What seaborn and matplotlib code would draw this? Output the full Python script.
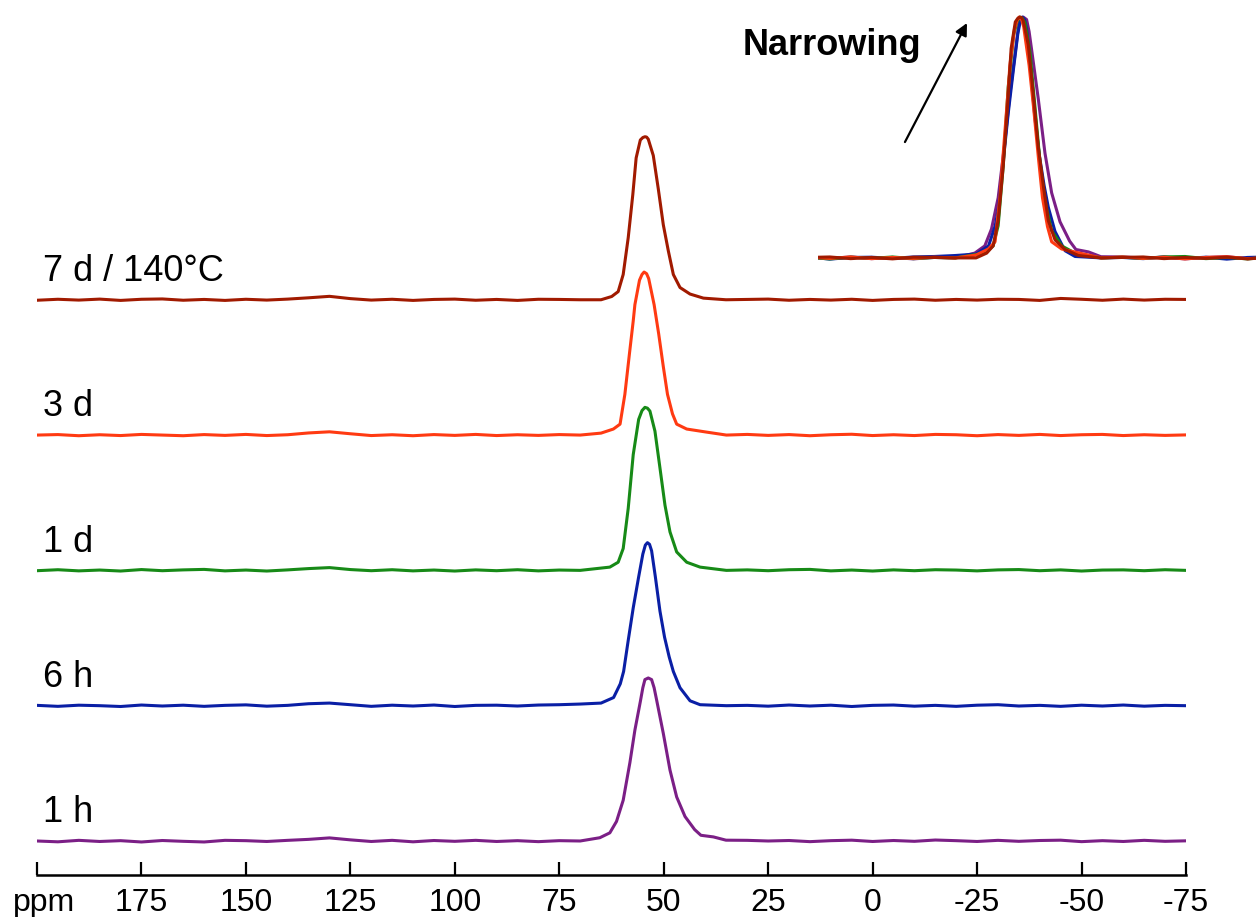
import matplotlib
matplotlib.use("Agg")
import matplotlib.pyplot as plt
import numpy as np
import pandas as pd
import seaborn as sns

# ---------------- data ----------------
labels = ["1 h", "6 h", "1 d", "3 d", "7 d / 140°C"]
colors = ["#7b1f86", "#0a1fa5", "#178a17", "#ff3a12", "#a11a00"]

tick_values = [200, 175, 150, 125, 100, 75, 50, 25, 0, -25, -50, -75]
tick_labels = ["", "175", "150", "125", "100", "75", "50", "25", "0", "-25", "-50", "-75"]
axis_unit = "ppm"

# baseline sampling grid (ppm) on both sides of the resonance
base_left_ppm = [200, 195, 190, 185, 180, 175, 170, 165, 160, 155, 150, 145, 140,
                 135, 130, 125, 120, 115, 110, 105, 100, 95, 90, 85, 80, 75]
base_right_ppm = [30, 25, 20, 15, 10, 5, 0, -5, -10, -15, -20, -25, -30, -35,
                  -40, -45, -50, -55, -60, -65, -70, -75]

# baseline readings (fraction of peak height)
base_left_1h = [0.0, -0.005, 0.004, -0.003, 0.002, -0.006, 0.003, -0.002, -0.006, 0.004,
                0.002, -0.003, 0.004, 0.010, 0.019, 0.007, -0.003, 0.004, -0.005, 0.003,
                -0.002, 0.004, -0.003, 0.002, -0.004, 0.002]
base_right_1h = [0.004, 0.0, 0.003, -0.004, 0.002, 0.005, -0.003, 0.003, -0.002, 0.006,
                 0.002, -0.003, 0.004, -0.002, 0.003, 0.005, -0.004, 0.002, -0.003, 0.004,
                 -0.002, 0.001]
base_left_6h = [0.002, -0.004, 0.003, 0.0, -0.005, 0.004, -0.002, 0.003, -0.004, 0.002,
                0.005, -0.003, 0.002, 0.012, 0.016, 0.006, -0.004, 0.003, -0.002, 0.004,
                -0.005, 0.002, 0.003, -0.002, 0.004, 0.006]
base_right_6h = [0.002, -0.003, 0.004, -0.002, 0.003, -0.005, 0.002, 0.004, -0.003, 0.002,
                 -0.004, 0.003, 0.006, -0.002, 0.002, -0.004, 0.003, -0.002, 0.004, -0.003,
                 0.002, 0.0]
base_left_1d = [-0.002, 0.004, -0.003, 0.002, -0.004, 0.005, -0.002, 0.003, 0.006, -0.003,
                0.002, -0.004, 0.003, 0.011, 0.017, 0.005, -0.002, 0.004, -0.003, 0.002,
                -0.004, 0.003, -0.002, 0.004, -0.003, 0.002]
base_right_1d = [0.003, -0.002, 0.004, 0.006, -0.003, 0.002, -0.004, 0.003, -0.002, 0.004,
                 0.002, -0.003, 0.003, 0.005, -0.002, 0.003, -0.004, 0.002, 0.003, -0.002,
                 0.004, 0.0]
base_left_3d = [0.0, 0.003, -0.004, 0.002, -0.003, 0.004, 0.0, -0.004, 0.003, -0.002,
                0.004, -0.003, 0.002, 0.013, 0.020, 0.008, -0.003, 0.002, -0.004, 0.003,
                -0.002, 0.004, -0.003, 0.002, -0.002, 0.003]
base_right_3d = [0.004, -0.002, 0.003, -0.004, 0.002, 0.005, -0.003, 0.002, -0.003, 0.004,
                 0.002, -0.004, 0.003, -0.002, 0.004, -0.003, 0.002, 0.004, -0.003, 0.002,
                 -0.002, 0.001]
base_left_7d = [-0.003, 0.003, -0.002, 0.004, -0.004, 0.003, 0.005, -0.003, 0.002, -0.004,
                0.003, -0.002, 0.004, 0.012, 0.021, 0.007, -0.002, 0.003, -0.004, 0.002,
                0.004, -0.003, 0.002, -0.004, 0.003, 0.002]
base_right_7d = [0.002, 0.004, -0.003, 0.002, -0.002, 0.003, -0.004, 0.002, 0.004, -0.003,
                 0.002, -0.002, 0.003, 0.002, -0.004, 0.008, 0.003, -0.003, 0.004, -0.002,
                 0.003, 0.002]

# resonance readings (ppm, fraction of peak height)
peak_ppm_1h = [70.0, 65.3, 62.9, 61.3, 59.7, 58.1, 56.9, 55.6, 55.0, 54.5, 53.7, 52.9,
               52.3, 51.7, 50.1, 48.5, 46.9, 44.9, 42.6, 41.1, 38.1, 35.1]
peak_int_1h = [0.0, 0.02, 0.05, 0.12, 0.25, 0.48, 0.68, 0.855, 0.94, 0.99, 1.0, 0.99,
               0.94, 0.865, 0.66, 0.435, 0.27, 0.15, 0.07, 0.035, 0.025, 0.005]
peak_ppm_6h = [70.0, 65.0, 62.0, 60.4, 59.6, 58.5, 57.3, 56.0, 55.0, 54.4, 53.9, 53.4,
               52.9, 52.0, 50.9, 49.8, 48.7, 47.7, 46.1, 43.7, 41.3, 35.0]
peak_int_6h = [0.01, 0.016, 0.05, 0.134, 0.21, 0.40, 0.60, 0.79, 0.93, 0.985, 1.0, 0.99,
               0.95, 0.79, 0.58, 0.42, 0.30, 0.21, 0.11, 0.03, 0.006, 0.0]
peak_ppm_1d = [70.0, 62.9, 60.9, 59.7, 58.5, 57.3, 56.0, 55.2, 54.5, 53.9, 53.3, 52.1,
               50.9, 49.7, 48.5, 46.9, 44.5, 41.3, 35.0]
peak_int_1d = [0.0, 0.02, 0.05, 0.134, 0.38, 0.71, 0.926, 0.98, 1.0, 0.995, 0.977, 0.854,
               0.628, 0.40, 0.236, 0.113, 0.05, 0.02, 0.0]
peak_ppm_3d = [70.0, 65.0, 62.05, 60.45, 59.3, 58.2, 57.3, 56.9, 55.8, 55.2, 54.7, 54.1,
               53.6, 52.3, 51.2, 50.1, 49.1, 47.9, 46.9, 44.5, 39.7, 35.0]
peak_int_3d = [0.0, 0.012, 0.037, 0.067, 0.25, 0.50, 0.70, 0.80, 0.95, 0.985, 1.0, 0.99,
               0.96, 0.80, 0.62, 0.42, 0.25, 0.13, 0.067, 0.037, 0.018, 0.0]
peak_ppm_7d = [70.0, 65.0, 62.45, 60.9, 59.7, 58.5, 57.4, 56.6, 55.6, 55.0, 54.5, 54.1,
               53.7, 52.5, 51.3, 50.1, 48.9, 47.7, 46.1, 43.7, 40.5, 35.1]
peak_int_7d = [0.0, 0.0, 0.02, 0.05, 0.155, 0.38, 0.645, 0.87, 0.98, 0.995, 1.0, 0.998,
               0.985, 0.885, 0.68, 0.46, 0.30, 0.155, 0.075, 0.035, 0.01, 0.0]

series_parts = [
    (base_left_1h, peak_ppm_1h, peak_int_1h, base_right_1h),
    (base_left_6h, peak_ppm_6h, peak_int_6h, base_right_6h),
    (base_left_1d, peak_ppm_1d, peak_int_1d, base_right_1d),
    (base_left_3d, peak_ppm_3d, peak_int_3d, base_right_3d),
    (base_left_7d, peak_ppm_7d, peak_int_7d, base_right_7d),
]

# ---------------- build long table ----------------
STEP = 0.83  # vertical stacking offset (layout)
rows = []
for i, (lab, (bl, pp, pi, br)) in enumerate(zip(labels, series_parts)):
    xs = list(base_left_ppm) + list(pp) + list(base_right_ppm)
    ys = list(bl) + list(pi) + list(br)
    for x, y in zip(xs, ys):
        rows.append({"ppm": x, "intensity": y, "stacked": y + i * STEP, "series": lab})
df = pd.DataFrame(rows)

# ---------------- figure ----------------
sns.set_theme(style="white")
plt.rcParams["font.family"] = ["Liberation Sans", "DejaVu Sans"]

fig = plt.figure(figsize=(12.56, 9.17), dpi=100)
ax = fig.add_axes([0.02946, 0.0458, 0.9148, 0.8234])

palette = dict(zip(labels, colors))
sns.lineplot(data=df, x="ppm", y="stacked", hue="series", hue_order=labels,
             palette=palette, estimator=None, legend=False, linewidth=2.2, ax=ax)

ax.set_xlim(200, -75)
ax.set_ylim(-0.2086, 4.423)
for s in ["left", "right", "top"]:
    ax.spines[s].set_visible(False)
ax.spines["bottom"].set_linewidth(1.8)
ax.spines["bottom"].set_color("black")
ax.set_yticks([])
ax.set_xticks(tick_values, labels=tick_labels)
ax.set_xticks([198.3], labels=[axis_unit], minor=True)
ax.tick_params(axis="x", which="major", bottom=True, direction="in", length=9.5,
               width=1.6, color="black", labelcolor="black", labelsize=23, pad=9)
ax.tick_params(axis="x", which="minor", bottom=True, length=0, labelsize=23, pad=9,
               labelcolor="black")
ax.set_xlabel("")
ax.set_ylabel("")
ax.patch.set_alpha(0)

for i, lab in enumerate(labels):
    ax.text(198.6, i * STEP + 0.115, lab, fontsize=26, color="black",
            ha="left", va="baseline")

# ---------------- inset (overlay) ----------------
axi = fig.add_axes([0.651, 0.7056, 0.349, 0.2889])
sns.lineplot(data=df, x="ppm", y="intensity", hue="series", hue_order=labels,
             palette=palette, estimator=None, legend=False, linewidth=2.2, ax=axi)
axi.set_xlim(102.9, -2.0)
axi.set_ylim(-0.05, 1.05)
axi.axis("off")

fig.text(0.6624, 0.9509, "Narrowing", fontsize=26, fontweight="bold",
         ha="center", va="center", color="black")
ax.annotate("", xy=(0.7699, 0.9749), xytext=(0.7205, 0.8451),
            xycoords="figure fraction", textcoords="figure fraction",
            arrowprops=dict(arrowstyle="-|>", color="black", lw=1.6,
                            mutation_scale=18, shrinkA=0, shrinkB=0))

fig.savefig("out.png", dpi=100)
